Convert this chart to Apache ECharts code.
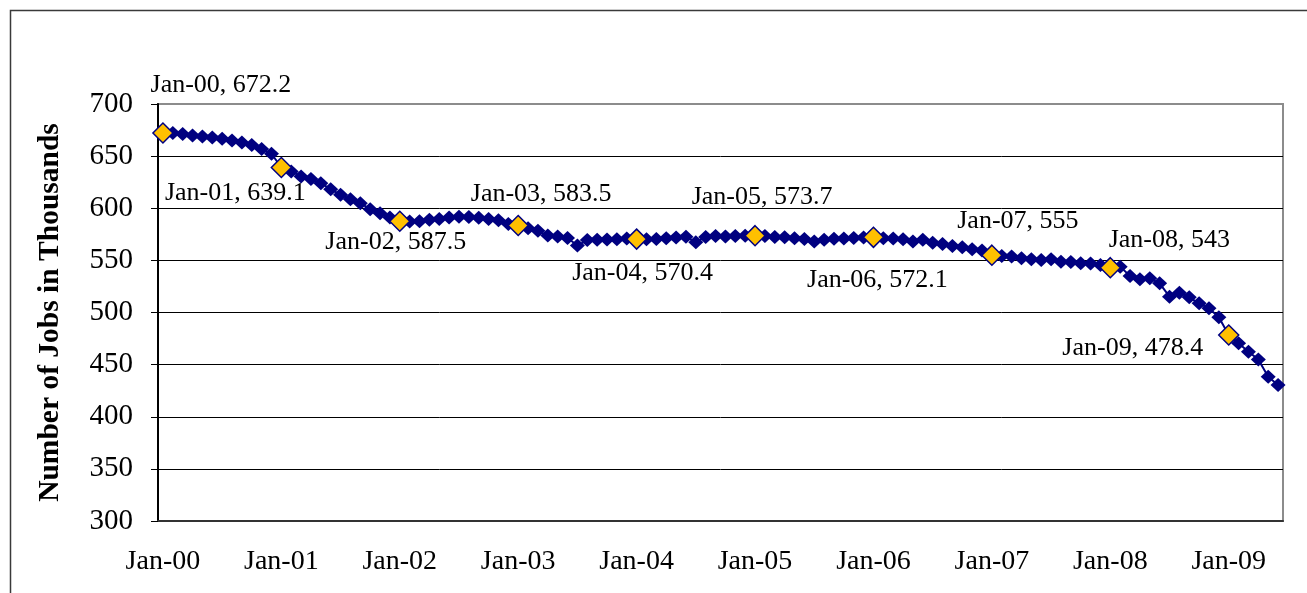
<!DOCTYPE html>
<html>
<head>
<meta charset="utf-8">
<script src="https://cdn.jsdelivr.net/npm/echarts@6/dist/echarts.min.js"></script>
<style>
html,body{margin:0;padding:0;background:#fff;}
#c{width:1307px;height:593px;}
</style>
</head>
<body>
<div id="c"></div>
<script>
// ---- data ----
const monthNames = ['Jan','Feb','Mar','Apr','May','Jun','Jul','Aug','Sep','Oct','Nov','Dec'];
const years = ['00','01','02','03','04','05','06','07','08','09'];
const categories = [];
years.forEach(function (y) { monthNames.forEach(function (m) { categories.push(m + '-' + y); }); });
categories.length = 114; // Jan-00 .. Jun-09

const jobs = [
  672.2, 672.1, 671.2, 669.8, 668.9, 667.9, 666.7, 665.0, 663.1, 660.6, 656.8, 652.3,
  639.1, 635.3, 630.5, 628.0, 624.1, 618.3, 612.9, 608.7, 604.9, 599.1, 595.3, 591.1,
  587.5, 587.2, 587.5, 588.9, 589.8, 591.1, 591.8, 591.5, 591.0, 589.8, 588.5, 585.0,
  583.5, 580.9, 578.3, 573.8, 573.0, 571.5, 564.2, 569.5, 569.8, 570.0, 570.2, 571.0,
  570.4, 570.3, 570.5, 571.3, 571.9, 572.6, 567.5, 572.5, 573.5, 572.8, 573.5, 573.6,
  573.7, 573.5, 572.5, 572.2, 571.3, 570.5, 568.0, 569.8, 570.8, 571.0, 571.5, 572.0,
  572.1, 571.3, 571.0, 570.3, 568.0, 569.8, 567.0, 565.8, 563.9, 562.6, 560.7, 559.4,
  555.0, 554.2, 553.6, 552.1, 551.1, 550.4, 551.1, 548.8, 548.5, 547.3, 547.0, 545.6,
  543.0, 544.0, 535.1, 531.9, 532.8, 528.0, 515.2, 519.0, 514.6, 508.8, 504.0, 495.4,
  478.4, 470.4, 462.4, 455.0, 438.3, 430.4
];

const janIndices = [0, 12, 24, 36, 48, 60, 72, 84, 96, 108];

const yMin = 300, yMax = 700, yStep = 50;

// ---- layout (label placement, px offsets from each highlighted point) ----
const labelOffsets = [
  [58, -48], [-46, 26], [-4, 21], [23, -31], [6, 34],
  [7, -38], [4, 43], [26, -34], [59, -28], [-96, 13]
];

const FONT = 'Liberation Serif';

const splitColors = [];
for (let v = yMin; v <= yMax; v += yStep) splitColors.push(v === yMax ? '#8c8c8c' : '#000000');

const janData = janIndices.map(function (idx, k) {
  return { value: [idx, jobs[idx]], label: { offset: labelOffsets[k] } };
});

const chart = echarts.init(document.getElementById('c'), null, { renderer: 'canvas' });
chart.setOption({
  animation: false,
  backgroundColor: '#ffffff',
  textStyle: { fontFamily: FONT },
  graphic: [{
    type: 'rect', silent: true, z: -10,
    shape: { x: 10.5, y: 10.5, width: 1400, height: 700 },
    style: { fill: 'none', stroke: '#3a3a3a', lineWidth: 1.5 }
  }],
  grid: {
    left: 158, right: 24, top: 104, bottom: 72,
    show: true, borderColor: '#8c8c8c', borderWidth: 2, backgroundColor: 'transparent'
  },
  xAxis: {
    type: 'category',
    data: categories,
    boundaryGap: true,
    axisLine: { lineStyle: { color: '#333333', width: 2 } },
    axisTick: { interval: 11, length: 7, alignWithLabel: false, lineStyle: { color: '#333333', width: 1 } },
    axisLabel: { interval: 11, fontSize: 28, color: '#000', margin: 27, fontFamily: FONT },
    splitLine: { show: false }
  },
  yAxis: {
    type: 'value',
    min: yMin, max: yMax, interval: yStep,
    name: 'Number of Jobs in Thousands',
    nameLocation: 'middle',
    nameGap: 93,
    nameTextStyle: { fontSize: 29.5, fontWeight: 'bold', color: '#000', fontFamily: FONT },
    axisLine: { show: true, lineStyle: { color: '#000', width: 2 } },
    axisTick: { show: true, length: 7, lineStyle: { color: '#000', width: 1 } },
    axisLabel: { fontSize: 29, color: '#000', margin: 25, fontFamily: FONT },
    splitLine: { show: true, lineStyle: { color: splitColors, width: 1 } }
  },
  series: [
    {
      type: 'line',
      data: jobs,
      symbol: 'diamond',
      symbolSize: [15, 14],
      showAllSymbol: true,
      lineStyle: { color: '#000080', width: 2 },
      itemStyle: { color: '#000080', opacity: 1 },
      z: 2
    },
    {
      type: 'scatter',
      data: janData,
      symbol: 'diamond',
      symbolSize: [20, 20],
      itemStyle: { color: '#FFC000', borderColor: '#000080', borderWidth: 1.5, opacity: 1 },
      label: {
        show: true,
        position: 'inside',
        fontSize: 26,
        color: '#000',
        opacity: 1,
        fontFamily: FONT,
        formatter: function (p) { return categories[p.value[0]] + ', ' + p.value[1]; }
      },
      z: 3
    }
  ]
});
</script>
</body>
</html>
